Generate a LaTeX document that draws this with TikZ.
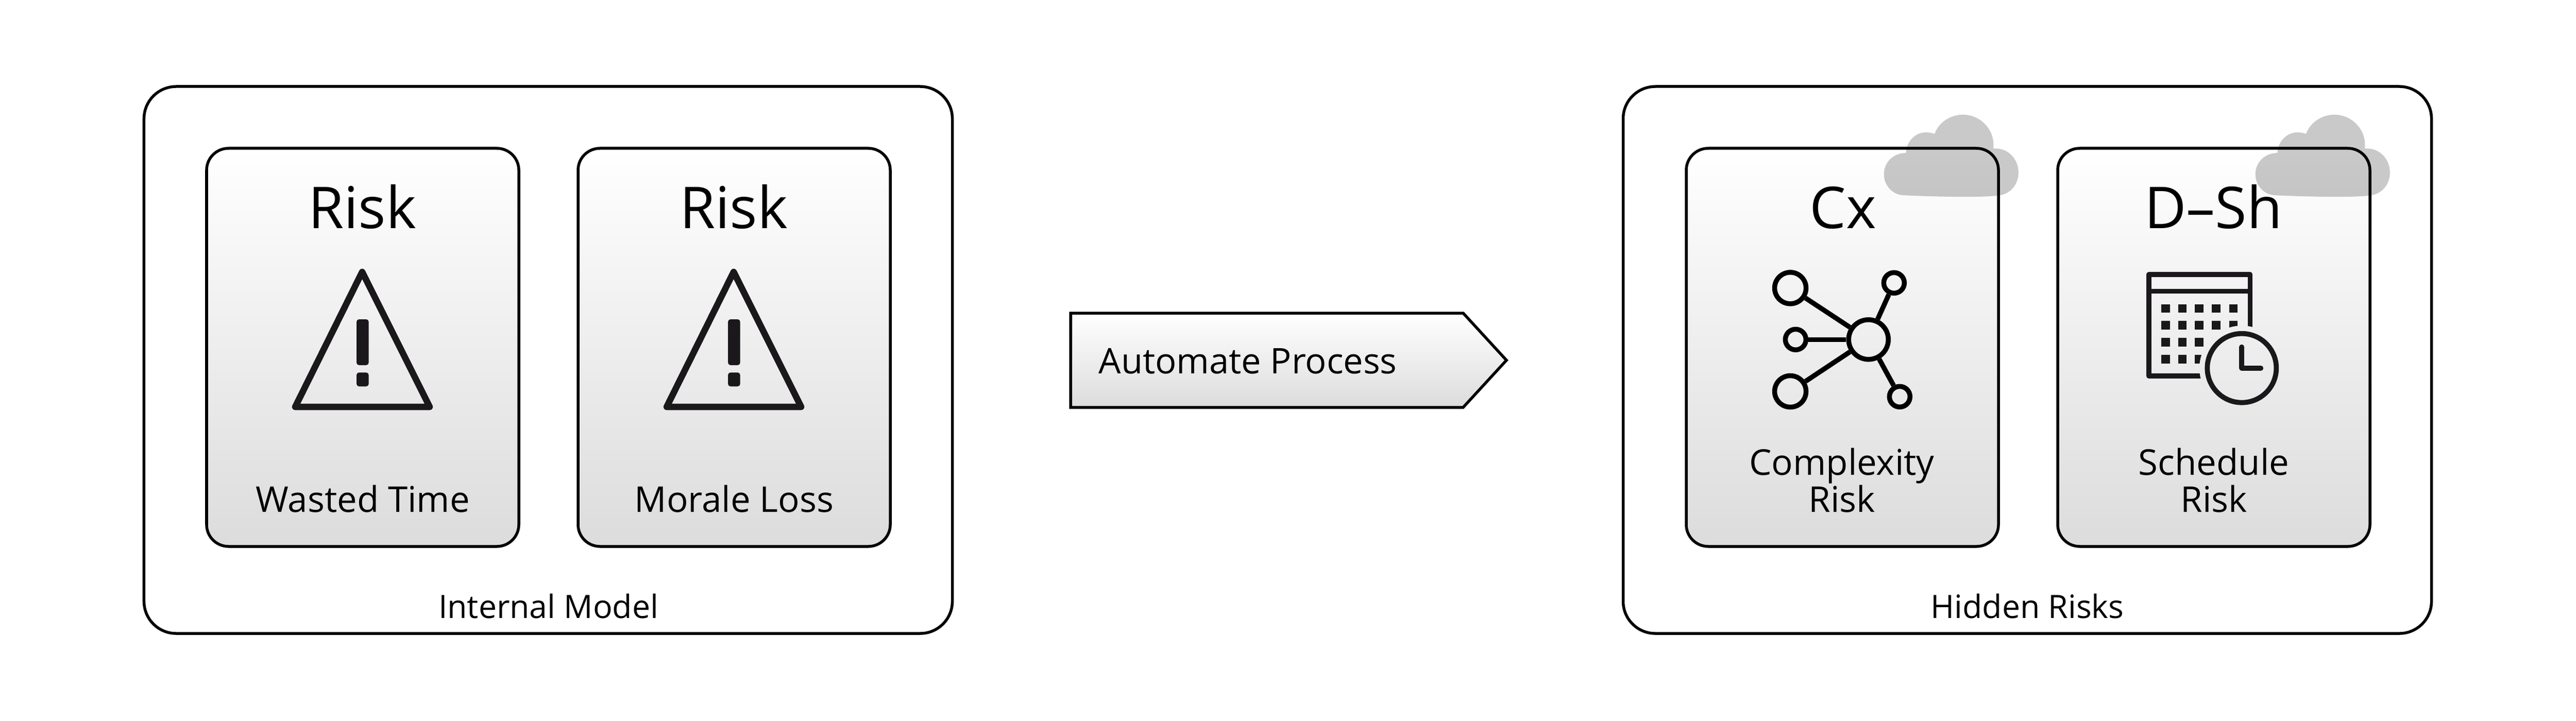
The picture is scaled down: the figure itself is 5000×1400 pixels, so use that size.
\documentclass[tikz,border=0pt]{standalone}
\usepackage{fontspec}
\setmainfont{Open Sans}
\definecolor{cardgrey}{HTML}{DCDCDC}
\definecolor{iconblack}{HTML}{1A181B}
\begin{document}
\begin{tikzpicture}
[x=0.2pt,y=-0.2pt,thick,line width=1.1pt,%
  groupbox/.style={draw,rectangle,rounded corners=12.5pt,minimum width=313.8pt,minimum height=212.4pt,inner sep=0pt},%
  riskcard/.style={draw,rectangle,rounded corners=8.5pt,minimum width=121.2pt,minimum height=154.6pt,inner sep=0pt,top color=white,bottom color=cardgrey},%
  cardtitle/.style={anchor=base,inner sep=0pt,font=\fontsize{22.4}{25}\selectfont},%
  cardtext/.style={anchor=base,inner sep=0pt,align=center,font=\fontsize{13.8}{14.4}\selectfont},%
  grouptext/.style={anchor=base,inner sep=0pt,font=\fontsize{12.5}{14}\selectfont},%
  hubnode/.style={draw,circle,line width=1.9pt,inner sep=0pt,minimum size=#1},%
  hubline/.style={line width=1.9pt},%
  cloudshape/.style={fill=black,opacity=0.21,draw=none}]
\useasboundingbox (0,0) rectangle (5000,1400);
\node[groupbox] (internal) at (1064,699) {};
\node[groupbox] (hidden) at (3935,699) {};
\node[riskcard] (wasted) at (704,674.5) {};
\node[riskcard] (morale) at (1425,674.5) {};
\node[riskcard] (complexity) at (3576,674.5) {};
\node[riskcard] (schedule) at (4297,674.5) {};
\node[cardtitle] (risk1) at (703,443) {Risk};
\node[cardtitle] (risk2) at (1424,443) {Risk};
\node[cardtitle] (cx) at (3577,443) {Cx};
\node[cardtitle] (dsh) at (4296,443) {D–Sh};
\node[cardtext] (wastedlabel) at (704,994.6) {Wasted Time};
\node[cardtext] (moralelabel) at (1425,994.6) {Morale Loss};
\node[cardtext] (cxlabel) at (3575,994.6) {Complexity\\Risk};
\node[cardtext] (shlabel) at (4297,994.6) {Schedule\\Risk};
\node[grouptext] (internallabel) at (1064.6,1200) {Internal Model};
\node[grouptext] (hiddenlabel) at (3935,1200) {Hidden Risks};
\foreach \dx in {0,721} {
  \begin{scope}[xshift=\dx*0.2pt,iconblack]
    \draw[line width=2.5pt,line join=round] (703,528) -- (834,790) -- (573,790) -- cycle;
    \fill[rounded corners=1pt] (692,620) rectangle (715.7,709);
    \fill[rounded corners=1pt] (692,723.3) rectangle (715.7,750.3);
  \end{scope}
}
\node[hubnode=15.4pt] (hub) at (3626.7,659.3) {};
\node[hubnode=12.2pt] (ntl) at (3475,559.3) {};
\node[hubnode=12.2pt] (nbl) at (3475,760) {};
\node[hubnode=8pt] (nl) at (3485.3,659.3) {};
\node[hubnode=8pt] (ntr) at (3676.3,549.3) {};
\node[hubnode=8pt] (nbr) at (3687.3,770.3) {};
\foreach \leaf in {ntl,nbl,nl,ntr,nbr}
  \draw[hubline] (hub) -- (\leaf);
\begin{scope}[iconblack]
  \begin{scope}[even odd rule]
    \clip (0,0) rectangle (5000,1400) (4351.3,714.7) circle[radius=82.4];
    \draw[line width=1.95pt,line join=round] (4170.8,533.2) rectangle (4367.5,730.2);
    \draw[line width=1.95pt] (4170.8,565.5) -- (4367.5,565.5);
    \foreach \x in {4195,4227.7,4260.3,4293.3,4326.7}
      \foreach \y in {590.7,623.3,656.3,689.3}
        \fill (\x,\y) rectangle ++(16.5,16.5);
  \end{scope}
  \node[draw,circle,line width=1.95pt,inner sep=0pt,minimum size=26.8pt] (clock) at (4351.3,714.7) {};
  \draw[line width=1.95pt,line cap=round,line join=round] (clock.center) ++(0,-41) -- (clock.center) -- ++(37,0);
\end{scope}
\path[draw,top color=white,bottom color=cardgrey] (2078,608) -- (2840,608) -- (2924,699.5) -- (2840,791) -- (2078,791) -- cycle;
\node[anchor=base west,inner sep=0pt,font=\fontsize{13.7}{16}\selectfont] (automate) at (2130,725) {Automate Process};
\foreach \cloudx in {3640,4361} {
  \begin{scope}[shift={(\cloudx,200)},x=0.0667pt,y=-0.0667pt]
    \path[cloudshape] (178,291) .. controls (182,220) and (235,171) .. (295,171)
      .. controls (312,171) and (330,174) .. (345,180)
      .. controls (370,110) and (440,68) .. (510,68)
      .. controls (608,68) and (688,148) .. (688,245) -- (688,265) -- (700,265)
      .. controls (775,265) and (833,328) .. (833,405)
      .. controls (833,475) and (785,530) .. (720,538)
      .. controls (640,550) and (400,548) .. (160,537)
      .. controls (100,533) and (50,480) .. (50,415)
      .. controls (50,345) and (105,291) .. (178,291) -- cycle;
  \end{scope}
}
\end{tikzpicture}
\end{document}
